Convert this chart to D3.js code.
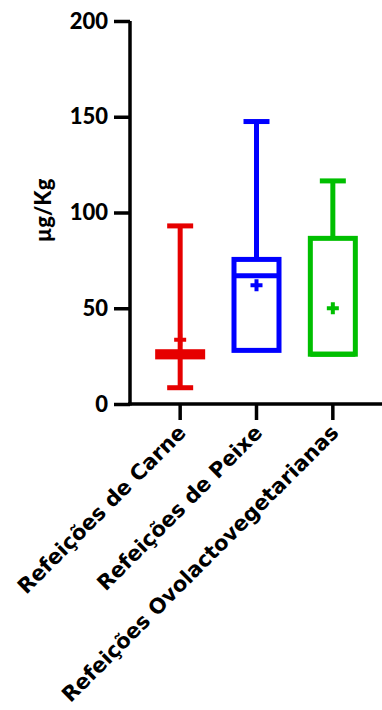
<!DOCTYPE html>
<html>
<head>
<meta charset="utf-8">
<script src="https://cdn.jsdelivr.net/npm/d3@7"></script>
<style>
  body { margin: 0; background: #fff; }
  text { font-family: Lato, "Open Sans", sans-serif; font-weight: 900; }
</style>
</head>
<body>
<svg id="chart" width="382" height="710"></svg>
<script>
// categories and box stats
var categories = ["Refeições de Carne", "Refeições de Peixe", "Refeições Ovolactovegetarianas"];
var colors = ["#e60000", "#0000ff", "#00bf00"];
var minVals = [8.5, 28, 26];
var q1Vals = [24.6, 28, 26];
var medianVals = [26, 67, 26];
var q3Vals = [27.3, 75.5, 86.5];
var maxVals = [93, 147.5, 116.5];
var meanVals = [33.5, 62, 50];
var yTicks = [0, 50, 100, 150, 200];

var svg = d3.select("#chart");

var y = d3.scaleLinear().domain([0, 200]).range([404, 21]);
var x = d3.scaleBand().domain(categories).range([142, 371]);

var boxW = 45, capW = 26, sw = 5;

// y axis
var yAxis = svg.append("g")
  .attr("transform", "translate(130,0)")
  .call(d3.axisLeft(y).tickValues(yTicks).tickSize(16).tickSizeOuter(0).tickPadding(6));
yAxis.select(".domain").attr("stroke-width", 3.5).attr("d", "M0," + (y(0) + 1.5) + "V" + y(200));
yAxis.selectAll(".tick line").attr("stroke-width", 3.5);
yAxis.selectAll(".tick text").attr("font-size", 22).attr("fill", "#000");

// x axis
var xAxis = svg.append("g")
  .attr("transform", "translate(0," + y(0) + ")")
  .call(d3.axisBottom(x).tickSize(16).tickSizeOuter(0));
xAxis.select(".domain").attr("stroke-width", 3.5).attr("d", "M128,0H382");
xAxis.selectAll(".tick line").attr("stroke-width", 3.5);
xAxis.selectAll(".tick text")
  .style("font-family", "'DejaVu Sans', sans-serif")
  .style("font-weight", "bold")
  .attr("font-size", 21)
  .attr("fill", "#000")
  .attr("text-anchor", "end")
  .attr("dy", 0)
  .attr("y", 0)
  .attr("transform", "translate(7,30) rotate(-45)");

// y title
svg.append("text")
  .attr("transform", "translate(51," + (y(100) - 2) + ") rotate(-90)")
  .attr("text-anchor", "middle")
  .attr("font-size", 22)
  .text("µg/Kg");

var data = categories.map(function(c, i) {
  return { cat: c, color: colors[i], min: minVals[i], q1: q1Vals[i], med: medianVals[i],
           q3: q3Vals[i], max: maxVals[i], mean: meanVals[i] };
});

var g = svg.selectAll(".box").data(data).enter().append("g")
  .attr("class", "box")
  .attr("transform", function(d) { return "translate(" + (x(d.cat) + x.bandwidth() / 2) + ",0)"; });

// whiskers
g.append("line")
  .attr("y1", function(d) { return y(d.max); })
  .attr("y2", function(d) { return y(d.q3); })
  .attr("stroke", function(d) { return d.color; }).attr("stroke-width", sw);
g.append("line")
  .attr("y1", function(d) { return y(d.min); })
  .attr("y2", function(d) { return y(d.q1); })
  .attr("stroke", function(d) { return d.color; }).attr("stroke-width", sw);
// caps
g.append("line")
  .attr("x1", -capW / 2).attr("x2", capW / 2)
  .attr("y1", function(d) { return y(d.max); })
  .attr("y2", function(d) { return y(d.max); })
  .attr("stroke", function(d) { return d.color; }).attr("stroke-width", sw);
g.filter(function(d) { return d.min < d.q1; }).append("line")
  .attr("x1", -capW / 2).attr("x2", capW / 2)
  .attr("y1", function(d) { return y(d.min); })
  .attr("y2", function(d) { return y(d.min); })
  .attr("stroke", function(d) { return d.color; }).attr("stroke-width", sw);
// box
g.append("rect")
  .attr("x", -boxW / 2).attr("width", boxW)
  .attr("y", function(d) { return y(d.q3); })
  .attr("height", function(d) { return y(d.q1) - y(d.q3); })
  .attr("fill", "#fff")
  .attr("stroke", function(d) { return d.color; }).attr("stroke-width", sw);
// median
g.append("line")
  .attr("x1", -boxW / 2).attr("x2", boxW / 2)
  .attr("y1", function(d) { return y(d.med); })
  .attr("y2", function(d) { return y(d.med); })
  .attr("stroke", function(d) { return d.color; }).attr("stroke-width", sw);
// mean
g.append("path")
  .attr("d", d3.symbol().type(d3.symbolCross).size(80))
  .attr("transform", function(d) { return "translate(0," + y(d.mean) + ")"; })
  .attr("fill", function(d) { return d.color; });
</script>
</body>
</html>
